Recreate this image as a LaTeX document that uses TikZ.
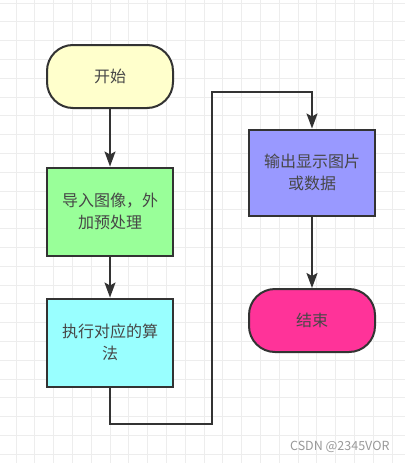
\documentclass[tikz,border=0pt]{standalone}
\usepackage{fontspec}
\newfontfamily\cjk{Noto Sans CJK SC}
\usepackage{tikz}
\usetikzlibrary{arrows.meta, positioning}
\definecolor{fline}{HTML}{333333}
\definecolor{fgrid}{HTML}{EDEDED}
\definecolor{fyellow}{HTML}{FFFFCC}
\definecolor{fgreen}{HTML}{99FF99}
\definecolor{fcyan}{HTML}{99FFFF}
\definecolor{fviolet}{HTML}{9999FF}
\definecolor{fpink}{HTML}{FF3399}
\tikzset{
  procbox/.style={draw=fline, line width=2pt, align=center, text=fline!90,
                  minimum width=126pt, minimum height=88pt, inner sep=4pt,
                  font=\cjk\fontsize{16}{22}\selectfont},
  termbox/.style={procbox, minimum height=63pt, rounded corners=26pt},
}

\begin{document}
\begin{tikzpicture}[
    x=1pt, y=-1pt,
    arr/.style={-{Stealth[length=15pt, width=11pt, inset=3pt]}, line width=2pt, fline},
  ]

  \useasboundingbox (0, 0) rectangle (405, 463);
  \fill[white] (0, 0) rectangle (405, 463);
  \foreach \k in {0,...,20} \draw[fgrid, line width=1pt] (16+\k*18.8, 0) -- (16+\k*18.8, 463);
  \foreach \k in {0,...,24} \draw[fgrid, line width=1pt] (0, 3+\k*18.8) -- (405, 3+\k*18.8);

  \node[termbox, fill=fyellow] (start) at (110, 76.5) {开始};
  \node[procbox, fill=fgreen] (load) at (110, 211.5) {导入图像，外\\加预处理};
  \node[procbox, fill=fcyan] (algo) at (110, 342.5) {执行对应的算\\法};
  \node[procbox, fill=fviolet, minimum height=86pt] (show) at (312, 172.5) {输出显示图片\\或数据};
  \node[termbox, fill=fpink] (stop) at (312, 320.5) {结束};

  \coordinate (turn1) at (212, 424);
  \coordinate (turn2) at (212, 92);

  \draw[arr] (start) -- (load);
  \draw[arr] (load) -- (algo);
  \draw[arr] (algo.south) |- (turn1) -- (turn2) -| (show.north);
  \draw[arr] (show) -- (stop);

  \node[text=gray!80, font=\cjk\fontsize{12.5}{14}\selectfont, anchor=east] (mark) at (393, 447) {CSDN @2345VOR};

\end{tikzpicture}
\end{document}
